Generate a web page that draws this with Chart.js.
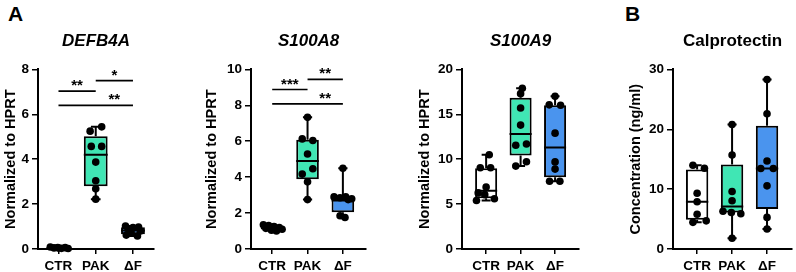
<!DOCTYPE html>
<html><head><meta charset="utf-8">
<script src="https://cdn.jsdelivr.net/npm/chart.js@4/dist/chart.umd.min.js"></script>
<style>
html,body{margin:0;padding:0;background:#fff;}
body{width:796px;height:272px;position:relative;overflow:hidden;font-family:"Liberation Sans",Arial,sans-serif;}
.wrap{position:absolute;top:0;height:272px;}
.lbl{position:absolute;font-weight:bold;font-size:21px;line-height:21px;color:#000;}
</style></head><body>
<div class="lbl" style="left:8px;top:3px">A</div>
<div class="lbl" style="left:625px;top:3px">B</div>
<div class="wrap" style="left:0px;width:158px"><canvas id="c1"></canvas></div>
<div class="wrap" style="left:201px;width:169px"><canvas id="c2"></canvas></div>
<div class="wrap" style="left:414px;width:169px"><canvas id="c3"></canvas></div>
<div class="wrap" style="left:625px;width:171px"><canvas id="c4"></canvas></div>
<script>
const categories = ['CTR', 'PAK', 'ΔF'];

// ---- DEFB4A ----
const defb4aCTR = [0.09, 0.05, 0.07, 0.03, 0.06, 0.02, 0.04];
const defb4aPAK = [5.44, 5.25, 4.57, 4.57, 3.87, 3.04, 2.68, 2.22];
const defb4aDF  = [1.02, 0.98, 0.95, 0.88, 0.80, 0.72, 0.62, 0.58];
const defb4aQ1     = [0.03, 2.79, 0.66];
const defb4aMedian = [0.05, 4.20, 0.82];
const defb4aQ3     = [0.08, 5.02, 0.97];
const defb4aTicks  = [0, 2, 4, 6, 8];
const defb4aSigFrom = [0, 1, 0];
const defb4aSigTo   = [1, 2, 2];
const defb4aSigY    = [7.03, 7.5, 6.4];
const defb4aSigText = ['**', '*', '**'];
const defb4aSigLabelAt = [0.5, 1.5, 1.5];

// ---- S100A8 ----
const s100a8CTR = [1.35, 1.30, 1.25, 1.20, 1.15, 1.10, 1.05, 1.00];
const s100a8PAK = [7.33, 6.13, 6.04, 5.29, 4.47, 4.17, 3.74, 2.75];
const s100a8DF  = [4.50, 2.90, 2.85, 2.90, 2.80, 2.75, 1.85, 1.75];
const s100a8Q1     = [1.08, 3.88, 2.05];
const s100a8Median = [1.18, 4.90, 2.70];
const s100a8Q3     = [1.28, 6.08, 2.90];
const s100a8Ticks  = [0, 2, 4, 6, 8, 10];
const s100a8SigFrom = [0, 1, 0];
const s100a8SigTo   = [1, 2, 2];
const s100a8SigY    = [8.88, 9.44, 8.08];
const s100a8SigText = ['***', '**', '**'];
const s100a8SigLabelAt = [0.5, 1.5, 1.5];

// ---- S100A9 ----
const s100a9CTR = [10.5, 9.05, 9.05, 6.9, 6.25, 6.05, 5.6, 5.4];
const s100a9PAK = [17.9, 17.3, 15.7, 13.8, 11.55, 11.7, 9.72, 9.23];
const s100a9DF  = [17.0, 16.05, 16.0, 12.9, 9.7, 8.9, 7.55, 7.55];
const s100a9Q1     = [5.65, 10.4, 8.0];
const s100a9Median = [6.5, 12.8, 11.3];
const s100a9Q3     = [9.0, 16.85, 16.0];
const s100a9Ticks  = [0, 5, 10, 15, 20];

// ---- Calprotectin ----
const calCTR = [14.0, 13.5, 9.3, 7.9, 5.8, 4.45, 4.7];
const calPAK = [20.8, 15.7, 9.6, 8.05, 6.3, 6.1, 5.9, 1.8];
const calDF  = [28.3, 22.6, 14.7, 13.45, 13.45, 10.55, 5.28, 3.33];
const calQ1     = [4.9, 6.1, 6.7];
const calMedian = [7.9, 7.1, 13.45];
const calQ3     = [13.3, 14.1, 20.6];
const calTicks  = [0, 10, 20, 30];

// horizontal jitter of the dots (category units), kept apart from values
const defb4aJitter = [[-0.22,-0.12,-0.02,0.08,0.18,0.26,0.0],[0.16,-0.15,-0.12,0.16,0,0,0,0],[-0.2,0.15,0.0,-0.12,0.2,-0.05,-0.18,0.12]];
const s100a8Jitter = [[-0.25,-0.1,0.05,0.2,-0.18,0.28,-0.02,0.12],[0,-0.15,0.15,0,0.15,-0.15,0,0],[0,-0.25,-0.08,0.08,0.25,0.15,-0.08,0.06]];
const s100a9Jitter = [[0.09,-0.17,0.13,0,-0.23,-0.04,0.24,-0.28],[0.05,0,0,0,-0.14,0.17,0.17,-0.14],[0,-0.17,0.16,0,0,0,-0.16,0.14]];
const calJitter    = [[-0.12,0.21,0,0,0,-0.12,0.26],[0,0,0,0,-0.26,-0.02,0.25,0],[0,0,0,-0.18,0.18,0,0,0]];

// styles
const groupColors = ['#ffffff', '#40e6b4', '#4a94ee'];
const BOX_W = 0.64, CAP_W = 0.26;
Chart.defaults.font.family = '"Liberation Sans", Arial, sans-serif';
Chart.defaults.color = '#000';

const sigPlugin = {
  id: 'sigLabels',
  afterDatasetsDraw(chart, args, opts) {
    if (!opts || !opts.text) return;
    const ctx = chart.ctx, xs = chart.scales.x, ys = chart.scales.y;
    ctx.save();
    ctx.fillStyle = '#000';
    ctx.font = 'bold 15px "Liberation Sans", Arial, sans-serif';
    ctx.textAlign = 'center';
    ctx.textBaseline = 'alphabetic';
    opts.text.forEach((t, i) => {
      ctx.fillText(t, xs.getPixelForValue(opts.at[i]), ys.getPixelForValue(opts.y[i]) - 1);
    });
    ctx.restore();
  }
};

function makePanel(id, p) {
  const groups = [p.ctr, p.pak, p.df];
  const whisk = [];
  groups.forEach((g, i) => {
    const mn = Math.min(...g), mx = Math.max(...g);
    whisk.push({x:i, y:mn}, {x:i, y:p.q1[i]}, {x:i, y:null});
    whisk.push({x:i, y:p.q3[i]}, {x:i, y:mx}, {x:i, y:null});
    whisk.push({x:i-CAP_W/2, y:mn}, {x:i+CAP_W/2, y:mn}, {x:i, y:null});
    whisk.push({x:i-CAP_W/2, y:mx}, {x:i+CAP_W/2, y:mx}, {x:i, y:null});
    whisk.push({x:i-BOX_W/2, y:p.med[i]}, {x:i+BOX_W/2, y:p.med[i]}, {x:i, y:null});
  });
  const dots = [];
  groups.forEach((g, i) => g.forEach((v, k) => dots.push({x: i + p.jitter[i][k], y: v})));
  const sig = [];
  if (p.sigY) p.sigY.forEach((yv, k) => {
    sig.push({x:p.sigFrom[k], y:yv}, {x:p.sigTo[k], y:yv}, {x:p.sigTo[k], y:null});
  });
  const datasets = [
    {type:'bar', data: categories.map((c,i)=>({x:i, y:[p.q1[i], p.q3[i]]})),
     backgroundColor: groupColors, borderColor:'#000', borderWidth:2, borderSkipped:false,
     barPercentage: BOX_W, categoryPercentage: 1, order:3, clip:false},
    {type:'line', data: whisk, borderColor:'#000', borderWidth:2, pointRadius:0, spanGaps:false, tension:0, fill:false, order:2, clip:false},
    {type:'scatter', data: dots, pointRadius:3.8, pointHoverRadius:3.8, backgroundColor:'#000', pointBorderWidth:0, order:1, clip:false}
  ];
  if (sig.length) datasets.push({type:'line', data: sig, borderColor:'#000', borderWidth:1.7, pointRadius:0, spanGaps:false, fill:false, order:2, clip:false});

  new Chart(document.getElementById(id), {
    type: 'bar',
    data: { datasets },
    plugins: [sigPlugin],
    options: {
      responsive: true, maintainAspectRatio: false, animation: false,
      events: [],
      layout: { padding: 0 },
      plugins: {
        legend: { display: false }, tooltip: { enabled: false },
        title: { display: true, text: p.title, color:'#000', fullSize:false,
                 font: { size: 17, weight: 'bold', style: p.italic ? 'italic' : 'normal' },
                 padding: { top: 31, bottom: 18 } },
        sigLabels: p.sigY ? { text: p.sigText, at: p.sigAt, y: p.sigY } : {}
      },
      scales: {
        x: { type:'linear', min:p.xMin, max:p.xMax, offset:false,
             afterBuildTicks: s => { s.ticks = categories.map((c,i)=>({value:i})); },
             afterFit: s => { s.height = 23; },
             ticks: { color:'#000', font:{size:13.5, weight:'bold'}, padding:4, maxRotation:0, autoSkip:false,
                      callback: v => categories[v] },
             grid: { display:true, drawOnChartArea:false, drawTicks:true, tickLength:5, color:'#000', lineWidth:1.5, offset:false },
             border: { display:true, color:'#000', width:2 } },
        y: { type:'linear', min:0, max:p.ticks[p.ticks.length-1],
             afterBuildTicks: s => { s.ticks = p.ticks.map(v=>({value:v})); },
             afterFit: s => { s.width = p.yw; },
             ticks: { color:'#000', font:{size:13.5, weight:'bold'}, padding:3 },
             grid: { display:true, drawOnChartArea:false, drawTicks:true, tickLength:6, color:'#000', lineWidth:1.5 },
             border: { display:true, color:'#000', width:2 },
             title: { display:true, text:p.yTitle, color:'#000', font:{size:14.5, weight:'bold'}, padding:{top:2.5, bottom:0} } }
      }
    }
  });
}

makePanel('c1', {title:'DEFB4A', italic:true, yTitle:'Normalized to HPRT', yw:38, xMin:-0.55, xMax:2.57,
  ctr:defb4aCTR, pak:defb4aPAK, df:defb4aDF, q1:defb4aQ1, med:defb4aMedian, q3:defb4aQ3, ticks:defb4aTicks, jitter:defb4aJitter,
  sigFrom:defb4aSigFrom, sigTo:defb4aSigTo, sigY:defb4aSigY, sigText:defb4aSigText, sigAt:defb4aSigLabelAt});
makePanel('c2', {title:'S100A8', italic:true, yTitle:'Normalized to HPRT', yw:50, xMin:-0.6, xMax:2.66,
  ctr:s100a8CTR, pak:s100a8PAK, df:s100a8DF, q1:s100a8Q1, med:s100a8Median, q3:s100a8Q3, ticks:s100a8Ticks, jitter:s100a8Jitter,
  sigFrom:s100a8SigFrom, sigTo:s100a8SigTo, sigY:s100a8SigY, sigText:s100a8SigText, sigAt:s100a8SigLabelAt});
makePanel('c3', {title:'S100A9', italic:true, yTitle:'Normalized to HPRT', yw:48, xMin:-0.7, xMax:2.7,
  ctr:s100a9CTR, pak:s100a9PAK, df:s100a9DF, q1:s100a9Q1, med:s100a9Median, q3:s100a9Q3, ticks:s100a9Ticks, jitter:s100a9Jitter});
makePanel('c4', {title:'Calprotectin', italic:false, yTitle:'Concentration (ng/ml)', yw:48, xMin:-0.69, xMax:2.72,
  ctr:calCTR, pak:calPAK, df:calDF, q1:calQ1, med:calMedian, q3:calQ3, ticks:calTicks, jitter:calJitter});
</script>
</body></html>
